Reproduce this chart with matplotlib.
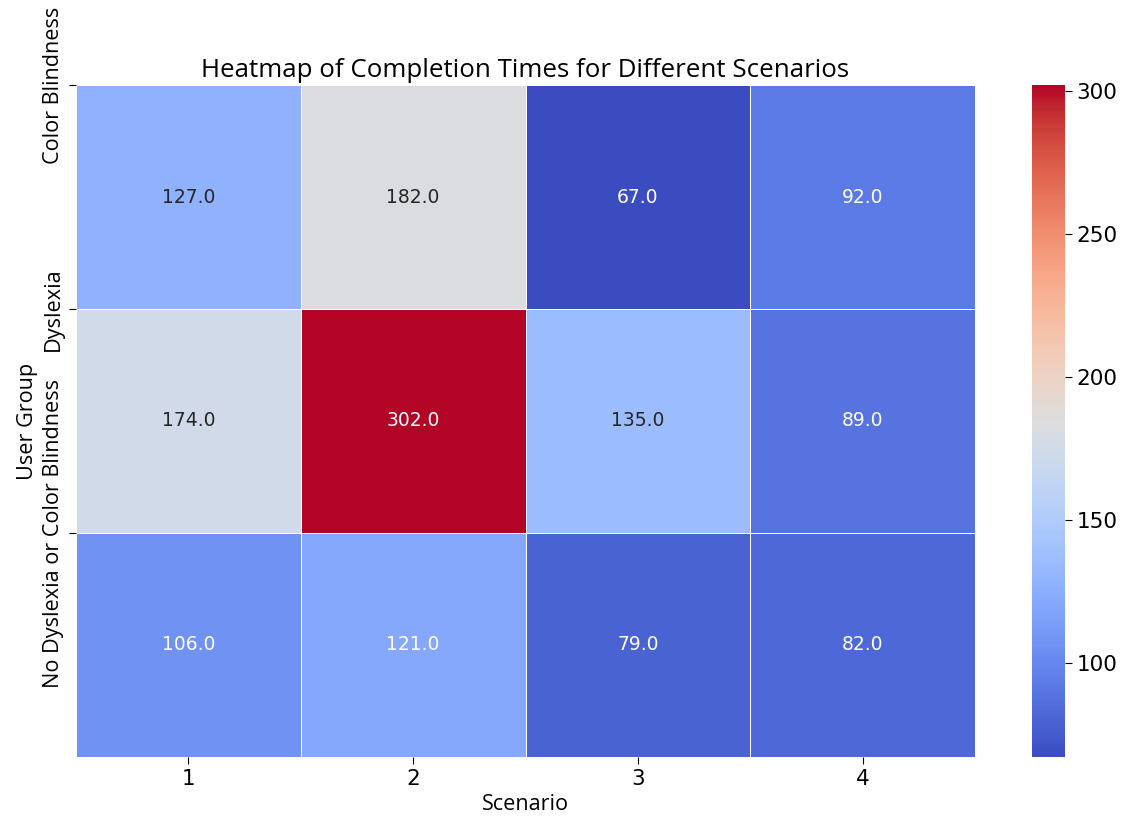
import matplotlib
matplotlib.use("Agg")
import matplotlib.pyplot as plt
import seaborn as sns
import numpy as np
import pandas as pd

user_groups = ["Color Blindness", "Dyslexia", "No Dyslexia or Color Blindness"]
scenarios = ["1", "2", "3", "4"]
color_blindness = [127.0, 182.0, 67.0, 92.0]
dyslexia = [174.0, 302.0, 135.0, 89.0]
no_condition = [106.0, 121.0, 79.0, 82.0]

data = pd.DataFrame([color_blindness, dyslexia, no_condition],
                    index=user_groups, columns=scenarios)

plt.rcParams['font.family'] = ['DejaVu Sans']
txt = ['Open Sans', 'DejaVu Sans']
lab_fs = 15.6
tick_fs = 15.5

fig = plt.figure(figsize=(11.22, 8.19), dpi=100)
W, H = 1122, 819
top, bottom = 85, 757
ax = fig.add_axes([76 / W, (H - bottom) / H, (975 - 76) / W, (bottom - top) / H])
cax = fig.add_axes([1032 / W, (H - bottom) / H, 33 / W, (bottom - top) / H])

sns.heatmap(data, ax=ax, cbar_ax=cax, cmap="coolwarm", annot=True, fmt=".1f",
            linewidths=0.5, linecolor="white", annot_kws={"fontsize": 13.5})

ax.set_yticks(range(len(user_groups)))
ax.set_yticklabels(user_groups, rotation=90, va="center", fontsize=lab_fs, family=txt)
ax.set_xticklabels(scenarios, fontsize=tick_fs)
ax.tick_params(length=5)
ax.set_xlabel("Scenario", fontsize=lab_fs, family=txt)
ax.set_ylabel("User Group", fontsize=lab_fs, family=txt)
ax.set_title("Heatmap of Completion Times for Different Scenarios", fontsize=18.6, family=txt)
cax.tick_params(labelsize=tick_fs, length=5)
cax.set_yticks([100, 150, 200, 250, 300])

fig.savefig("out.png", dpi=100)
